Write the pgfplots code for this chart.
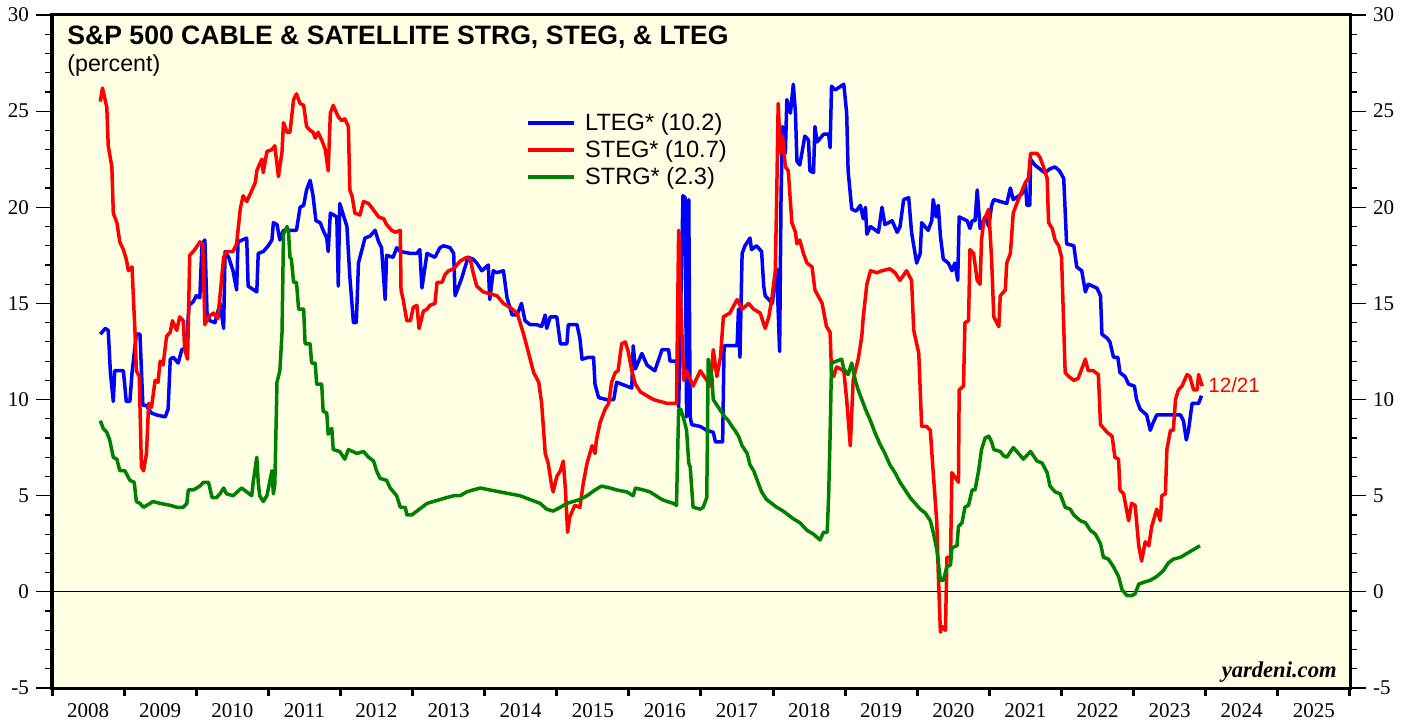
\documentclass[border=0pt]{standalone}
\usepackage{fontspec}
\setmainfont{Liberation Serif}
\newfontfamily\arial{Liberation Sans}
\usepackage{pgfplots}
\pgfplotsset{compat=1.18}
\definecolor{bgyellow}{RGB}{255,255,228}
\definecolor{lteg}{RGB}{0,0,255}
\definecolor{steg}{RGB}{255,0,0}
\definecolor{strg}{RGB}{0,128,0}

\pgfplotsset{
  frame/.style={
    scale only axis, width=649pt, height=336.5pt,
    xmin=2008, xmax=2026, ymin=-5, ymax=30,
    axis line style={line width=1.5pt},
    tick align=outside,
    tick label style={font=\fontsize{10.5}{12}\selectfont},
    /pgf/number format/assume math mode=true,
  },
  yframe/.style={frame, xtick=\empty,
    ytick={-5,0,...,30}, minor y tick num=4,
    major tick length=8pt, minor tick length=3.5pt,
    tick style={black, line width=0.6pt}},
}

\begin{document}
\begin{tikzpicture}
\begin{axis}[frame,
  axis background/.style={fill=bgyellow},
  xtick={2008,...,2026},
  xticklabels={2008,2009,2010,2011,2012,2013,2014,2015,2016,2017,2018,2019,2020,2021,2022,2023,2024,2025,{}},
  xticklabel style={xshift=18.03pt},
  xtick pos=bottom, ytick=\empty,
  major tick length=4pt, tick style={black, line width=1.5pt},
  every axis plot/.append style={line width=1.75pt, line join=round},
  legend cell align=left,
  legend image code/.code={\draw[#1] (0pt,0pt) -- (23pt,0pt);},
  legend style={draw=none, fill=none, at={(rel axis cs:0.3652,0.8565)}, anchor=north west,
    font=\arial\fontsize{11.8}{13}\selectfont, inner sep=0pt, row sep=2.2pt, column sep=4pt,
    nodes={inner sep=0.6pt}},
]
\addplot[black, line width=0.5pt, forget plot] coordinates {(2008,0)(2026,0)};

\addplot[lteg] coordinates {
(2008.67,13.4)(2008.74,13.7)(2008.78,13.6)(2008.81,11.4)(2008.85,9.9)(2008.87,11.5)(2008.99,11.5)(2009.03,9.9)(2009.08,9.9)(2009.11,11.4)(2009.17,13.4)(2009.22,13.4)(2009.26,9.7)(2009.31,9.7)(2009.34,9.5)(2009.38,9.3)(2009.45,9.2)(2009.57,9.1)(2009.61,9.5)(2009.64,12.1)(2009.68,12.2)(2009.75,11.9)(2009.80,12.6)(2009.86,12.7)(2009.90,14.9)(2009.96,15.1)(2010.00,15.4)(2010.05,15.3)(2010.08,18.1)(2010.12,18.3)(2010.15,14.5)(2010.19,14.1)(2010.26,14.0)(2010.33,15.0)(2010.38,13.7)(2010.40,17.7)(2010.45,17.4)(2010.51,16.7)(2010.56,15.7)(2010.58,18.2)(2010.70,18.4)(2010.72,15.9)(2010.84,15.6)(2010.86,17.6)(2010.93,17.7)(2011.00,18.0)(2011.05,18.3)(2011.07,19.2)(2011.12,19.1)(2011.16,18.3)(2011.21,18.8)(2011.30,18.8)(2011.39,18.8)(2011.44,20.0)(2011.49,20.1)(2011.53,20.9)(2011.58,21.4)(2011.62,20.6)(2011.66,19.3)(2011.72,19.2)(2011.76,18.8)(2011.81,18.4)(2011.83,17.7)(2011.86,19.7)(2011.95,19.5)(2011.97,15.9)(2011.99,20.2)(2012.04,19.6)(2012.09,19.0)(2012.13,16.4)(2012.18,14.0)(2012.22,14.0)(2012.25,17.1)(2012.34,18.4)(2012.41,18.5)(2012.48,18.8)(2012.53,18.2)(2012.57,17.9)(2012.62,15.2)(2012.64,17.5)(2012.73,17.4)(2012.78,17.9)(2012.83,17.7)(2012.97,17.6)(2013.06,17.6)(2013.10,17.8)(2013.13,15.8)(2013.20,17.6)(2013.31,17.4)(2013.38,17.9)(2013.43,18.0)(2013.52,17.9)(2013.57,17.6)(2013.59,15.4)(2013.64,15.9)(2013.68,16.3)(2013.77,17.4)(2013.84,17.3)(2013.89,17.1)(2013.96,16.7)(2014.05,17.0)(2014.07,15.2)(2014.12,16.7)(2014.17,16.6)(2014.26,16.7)(2014.31,15.3)(2014.38,14.4)(2014.45,14.4)(2014.51,15.0)(2014.56,14.1)(2014.63,13.9)(2014.72,13.9)(2014.79,13.8)(2014.84,14.4)(2014.86,13.7)(2014.91,14.3)(2015.00,14.3)(2015.05,12.9)(2015.14,12.9)(2015.16,13.9)(2015.28,13.9)(2015.32,13.2)(2015.35,12.1)(2015.44,12.2)(2015.51,12.2)(2015.53,10.8)(2015.58,10.1)(2015.69,10.0)(2015.79,10.0)(2015.83,10.9)(2016.04,10.6)(2016.06,12.8)(2016.09,11.6)(2016.18,12.4)(2016.25,11.8)(2016.32,11.6)(2016.36,11.5)(2016.46,12.6)(2016.55,12.6)(2016.57,12.0)(2016.66,12.0)(2016.69,9.6)(2016.75,20.6)(2016.78,20.5)(2016.80,9.1)(2016.83,20.4)(2016.85,9.1)(2016.87,8.7)(2016.99,8.6)(2017.08,8.4)(2017.17,8.3)(2017.20,7.8)(2017.30,7.8)(2017.32,12.8)(2017.45,12.8)(2017.50,12.8)(2017.52,14.7)(2017.54,12.2)(2017.57,17.6)(2017.61,18.0)(2017.68,18.4)(2017.70,17.8)(2017.77,18.0)(2017.84,17.7)(2017.87,15.9)(2017.89,15.4)(2017.94,15.2)(2017.99,15.0)(2018.03,16.4)(2018.05,16.8)(2018.09,12.5)(2018.11,20.6)(2018.13,24.2)(2018.17,22.8)(2018.19,25.6)(2018.24,24.9)(2018.28,26.4)(2018.31,24.9)(2018.33,22.4)(2018.37,22.2)(2018.44,23.7)(2018.49,23.5)(2018.51,21.9)(2018.56,21.8)(2018.58,24.2)(2018.61,23.4)(2018.70,23.8)(2018.77,23.8)(2018.79,23.1)(2018.81,26.3)(2018.86,26.1)(2018.98,26.4)(2019.02,24.9)(2019.04,21.9)(2019.09,19.9)(2019.15,19.8)(2019.21,20.1)(2019.25,19.4)(2019.28,20.0)(2019.30,18.6)(2019.35,19.0)(2019.46,18.7)(2019.51,20.0)(2019.55,19.1)(2019.65,19.3)(2019.72,18.7)(2019.76,19.0)(2019.81,20.4)(2019.88,20.5)(2019.92,18.7)(2019.99,17.1)(2020.04,17.6)(2020.06,19.2)(2020.15,18.8)(2020.20,19.3)(2020.22,20.4)(2020.26,19.5)(2020.29,20.1)(2020.32,18.5)(2020.36,17.3)(2020.43,17.1)(2020.48,16.7)(2020.52,17.1)(2020.56,16.2)(2020.58,19.5)(2020.69,19.3)(2020.73,18.9)(2020.76,19.3)(2020.80,19.3)(2020.83,20.9)(2020.87,18.9)(2020.94,19.5)(2020.99,19.0)(2021.03,20.1)(2021.06,20.4)(2021.24,20.2)(2021.29,21.0)(2021.33,20.4)(2021.45,20.7)(2021.50,21.2)(2021.52,20.1)(2021.56,20.1)(2021.57,22.5)(2021.63,22.2)(2021.73,21.9)(2021.77,21.8)(2021.84,22.0)(2021.91,22.1)(2021.97,21.9)(2022.03,21.5)(2022.07,18.1)(2022.17,18.0)(2022.21,16.9)(2022.28,16.7)(2022.33,15.6)(2022.37,16.0)(2022.49,15.8)(2022.54,15.4)(2022.56,13.4)(2022.63,13.2)(2022.67,13.0)(2022.72,12.2)(2022.78,12.2)(2022.81,11.4)(2022.88,11.2)(2022.93,10.8)(2023.01,10.7)(2023.04,10.0)(2023.09,9.5)(2023.18,9.2)(2023.23,8.4)(2023.27,8.8)(2023.32,9.2)(2023.65,9.2)(2023.69,8.9)(2023.73,7.9)(2023.76,8.4)(2023.81,9.8)(2023.90,9.8)(2023.94,10.2)
};
\addlegendentry{LTEG* (10.2)}

\addplot[steg] coordinates {
(2008.67,25.5)(2008.70,26.2)(2008.76,25.2)(2008.78,23.2)(2008.83,22.1)(2008.85,19.7)(2008.90,19.2)(2008.94,18.2)(2008.99,17.8)(2009.03,17.3)(2009.06,16.7)(2009.11,16.9)(2009.13,15.2)(2009.15,13.6)(2009.17,11.5)(2009.21,11.2)(2009.24,6.5)(2009.27,6.3)(2009.31,7.2)(2009.34,9.8)(2009.38,9.6)(2009.43,11.0)(2009.47,10.9)(2009.50,12.0)(2009.54,11.8)(2009.59,13.3)(2009.64,13.5)(2009.67,14.1)(2009.73,13.6)(2009.77,14.3)(2009.82,14.1)(2009.84,12.6)(2009.88,12.1)(2009.91,17.5)(2009.98,17.8)(2010.05,18.2)(2010.09,18.1)(2010.12,13.9)(2010.17,14.3)(2010.24,14.5)(2010.30,14.2)(2010.38,17.4)(2010.42,17.7)(2010.51,17.7)(2010.56,18.1)(2010.61,19.9)(2010.65,20.6)(2010.70,20.3)(2010.75,20.7)(2010.82,21.3)(2010.84,21.9)(2010.91,22.5)(2010.93,21.8)(2010.98,22.9)(2011.05,23.0)(2011.09,23.2)(2011.14,21.6)(2011.19,22.9)(2011.21,24.4)(2011.26,23.9)(2011.30,23.9)(2011.35,25.6)(2011.39,25.9)(2011.44,25.4)(2011.49,25.3)(2011.53,24.2)(2011.58,24.0)(2011.62,23.9)(2011.65,23.6)(2011.69,23.9)(2011.74,23.5)(2011.79,23.0)(2011.83,21.9)(2011.86,24.9)(2011.90,25.3)(2011.97,24.7)(2012.02,24.5)(2012.06,24.6)(2012.11,24.2)(2012.13,20.9)(2012.16,20.6)(2012.20,19.7)(2012.27,19.6)(2012.32,20.3)(2012.39,20.2)(2012.43,20.0)(2012.53,19.5)(2012.60,19.4)(2012.64,19.1)(2012.71,18.8)(2012.76,18.7)(2012.83,18.8)(2012.84,15.7)(2012.87,15.2)(2012.92,14.1)(2012.97,14.1)(2013.01,14.8)(2013.06,14.9)(2013.09,13.7)(2013.15,14.6)(2013.20,14.7)(2013.24,14.9)(2013.31,15.0)(2013.34,16.1)(2013.41,16.1)(2013.45,16.5)(2013.50,16.7)(2013.57,16.8)(2013.66,17.2)(2013.75,17.4)(2013.80,17.3)(2013.84,16.6)(2013.89,15.9)(2013.98,15.6)(2014.17,15.4)(2014.26,15.0)(2014.35,14.8)(2014.45,14.5)(2014.54,13.4)(2014.61,12.4)(2014.68,11.4)(2014.75,10.9)(2014.79,9.8)(2014.84,7.2)(2014.88,6.7)(2014.93,5.5)(2014.95,5.2)(2015.00,6.0)(2015.05,6.3)(2015.09,6.8)(2015.12,5.3)(2015.15,3.1)(2015.18,3.9)(2015.25,4.5)(2015.32,4.4)(2015.37,5.7)(2015.42,6.7)(2015.49,7.6)(2015.53,7.2)(2015.55,7.9)(2015.60,8.8)(2015.67,9.5)(2015.72,9.8)(2015.76,10.9)(2015.81,11.4)(2015.85,11.5)(2015.90,12.9)(2015.95,13.0)(2015.99,12.5)(2016.04,11.5)(2016.09,10.8)(2016.16,10.4)(2016.25,10.2)(2016.34,10.0)(2016.53,9.8)(2016.66,9.8)(2016.69,18.8)(2016.72,15.0)(2016.76,11.0)(2016.80,11.5)(2016.89,10.7)(2016.99,11.5)(2017.08,11.0)(2017.13,10.7)(2017.17,12.6)(2017.22,11.2)(2017.27,12.2)(2017.31,14.3)(2017.40,14.5)(2017.50,15.2)(2017.57,14.7)(2017.66,15.0)(2017.73,14.7)(2017.82,14.5)(2017.89,13.7)(2017.94,14.3)(2017.98,15.2)(2018.03,16.7)(2018.05,20.6)(2018.07,25.4)(2018.10,22.8)(2018.13,23.7)(2018.17,22.1)(2018.21,21.9)(2018.26,19.2)(2018.31,18.7)(2018.33,18.1)(2018.37,18.3)(2018.42,17.6)(2018.47,17.1)(2018.54,16.9)(2018.58,15.7)(2018.68,15.0)(2018.74,13.8)(2018.79,13.5)(2018.81,11.4)(2018.84,11.2)(2018.88,11.7)(2018.98,11.5)(2019.02,10.0)(2019.07,7.6)(2019.11,11.0)(2019.14,11.5)(2019.18,12.1)(2019.23,13.3)(2019.25,14.3)(2019.30,16.0)(2019.35,16.7)(2019.44,16.6)(2019.51,16.7)(2019.62,16.8)(2019.69,16.6)(2019.76,16.2)(2019.85,16.7)(2019.92,16.2)(2019.95,13.6)(2020.02,12.4)(2020.06,8.6)(2020.13,8.6)(2020.18,8.4)(2020.22,6.2)(2020.27,3.6)(2020.29,1.0)(2020.32,-2.1)(2020.34,-1.8)(2020.39,-2.0)(2020.41,1.8)(2020.46,1.8)(2020.48,6.2)(2020.57,5.7)(2020.58,10.5)(2020.64,10.7)(2020.66,14.0)(2020.71,14.1)(2020.73,17.8)(2020.78,17.6)(2020.83,16.2)(2020.87,16.0)(2020.89,18.3)(2020.92,19.3)(2020.99,19.9)(2021.03,17.3)(2021.06,14.3)(2021.13,13.8)(2021.15,15.4)(2021.22,15.7)(2021.24,17.1)(2021.29,17.6)(2021.33,19.7)(2021.40,20.4)(2021.50,21.3)(2021.54,21.5)(2021.57,22.8)(2021.66,22.8)(2021.70,22.6)(2021.75,22.1)(2021.80,21.5)(2021.82,19.2)(2021.87,18.9)(2021.91,18.3)(2021.96,18.0)(2022.00,17.4)(2022.05,11.4)(2022.10,11.2)(2022.17,11.0)(2022.23,11.1)(2022.33,12.1)(2022.37,11.5)(2022.44,11.5)(2022.51,11.3)(2022.54,8.7)(2022.63,8.3)(2022.70,8.1)(2022.74,7.0)(2022.79,6.9)(2022.81,5.3)(2022.86,5.1)(2022.93,3.7)(2022.97,4.6)(2023.02,4.5)(2023.07,2.4)(2023.11,1.6)(2023.16,2.6)(2023.21,2.4)(2023.25,3.4)(2023.32,4.3)(2023.37,3.7)(2023.39,5.0)(2023.44,5.1)(2023.46,7.4)(2023.51,8.4)(2023.55,8.4)(2023.58,10.0)(2023.62,10.5)(2023.67,10.7)(2023.74,11.3)(2023.78,11.2)(2023.83,10.5)(2023.88,10.5)(2023.90,11.3)(2023.95,10.7)
};
\addlegendentry{STEG* (10.7)}

\addplot[strg] coordinates {
(2008.67,8.9)(2008.71,8.5)(2008.76,8.3)(2008.80,7.9)(2008.85,7.0)(2008.90,6.9)(2008.94,6.3)(2009.01,6.3)(2009.08,5.8)(2009.14,5.7)(2009.17,4.7)(2009.22,4.6)(2009.27,4.4)(2009.36,4.6)(2009.40,4.7)(2009.50,4.6)(2009.64,4.5)(2009.73,4.4)(2009.82,4.4)(2009.87,4.6)(2009.89,5.3)(2009.96,5.3)(2010.05,5.5)(2010.10,5.7)(2010.17,5.7)(2010.22,4.9)(2010.28,4.9)(2010.33,5.1)(2010.38,5.4)(2010.42,5.1)(2010.51,5.0)(2010.63,5.4)(2010.70,5.2)(2010.77,5.0)(2010.79,5.7)(2010.84,7.0)(2010.86,5.7)(2010.88,5.0)(2010.93,4.7)(2010.98,5.0)(2011.05,6.3)(2011.07,5.1)(2011.09,5.6)(2011.12,10.9)(2011.16,11.5)(2011.19,13.5)(2011.21,18.6)(2011.26,19.0)(2011.28,18.7)(2011.30,17.4)(2011.32,17.3)(2011.35,16.1)(2011.39,16.1)(2011.42,14.7)(2011.49,14.7)(2011.51,12.9)(2011.58,12.9)(2011.60,11.9)(2011.65,11.9)(2011.67,10.8)(2011.74,10.8)(2011.76,9.4)(2011.81,9.3)(2011.83,8.2)(2011.88,8.5)(2011.90,7.4)(2011.99,7.3)(2012.06,6.9)(2012.11,7.4)(2012.23,7.2)(2012.32,7.3)(2012.39,7.0)(2012.46,6.8)(2012.50,6.3)(2012.55,5.9)(2012.64,5.8)(2012.69,5.4)(2012.78,5.0)(2012.83,4.4)(2012.90,4.4)(2012.92,4.0)(2012.99,4.0)(2013.06,4.2)(2013.13,4.4)(2013.20,4.6)(2013.29,4.7)(2013.47,4.9)(2013.57,5.0)(2013.66,5.0)(2013.75,5.2)(2013.84,5.3)(2013.94,5.4)(2014.07,5.3)(2014.21,5.2)(2014.35,5.1)(2014.49,5.0)(2014.63,4.8)(2014.77,4.6)(2014.86,4.3)(2014.95,4.2)(2015.05,4.4)(2015.14,4.6)(2015.32,4.8)(2015.42,5.0)(2015.53,5.3)(2015.62,5.5)(2015.74,5.4)(2015.83,5.3)(2015.97,5.2)(2016.06,5.0)(2016.09,5.4)(2016.20,5.3)(2016.29,5.2)(2016.46,4.8)(2016.53,4.7)(2016.62,4.6)(2016.66,4.5)(2016.69,9.5)(2016.72,9.5)(2016.76,9.0)(2016.80,8.4)(2016.83,6.7)(2016.85,6.5)(2016.89,4.4)(2016.99,4.3)(2017.03,4.4)(2017.08,4.9)(2017.10,12.1)(2017.15,11.2)(2017.17,10.0)(2017.24,9.6)(2017.33,9.1)(2017.38,8.9)(2017.43,8.6)(2017.47,8.4)(2017.52,8.1)(2017.57,7.6)(2017.64,7.2)(2017.68,6.6)(2017.73,6.3)(2017.77,5.9)(2017.84,5.2)(2017.91,4.8)(2017.98,4.6)(2018.05,4.4)(2018.14,4.2)(2018.21,4.0)(2018.28,3.8)(2018.37,3.6)(2018.47,3.2)(2018.56,3.0)(2018.65,2.7)(2018.70,3.1)(2018.75,3.1)(2018.77,5.0)(2018.79,8.1)(2018.81,11.9)(2018.88,12.0)(2018.95,12.1)(2018.98,11.6)(2019.04,11.3)(2019.09,11.9)(2019.14,11.0)(2019.18,10.5)(2019.23,10.0)(2019.28,9.5)(2019.35,8.9)(2019.41,8.3)(2019.48,7.7)(2019.55,7.2)(2019.62,6.6)(2019.69,6.2)(2019.76,5.7)(2019.83,5.3)(2019.90,4.9)(2019.97,4.6)(2020.04,4.3)(2020.11,4.1)(2020.18,3.7)(2020.22,3.1)(2020.27,2.2)(2020.32,0.6)(2020.36,0.6)(2020.41,1.3)(2020.46,1.4)(2020.48,2.3)(2020.55,2.4)(2020.57,3.4)(2020.62,3.6)(2020.66,4.4)(2020.71,4.5)(2020.76,5.3)(2020.80,5.3)(2020.85,6.3)(2020.89,7.4)(2020.94,8.0)(2020.99,8.1)(2021.03,7.8)(2021.06,7.4)(2021.15,7.3)(2021.19,7.1)(2021.24,7.0)(2021.33,7.5)(2021.38,7.3)(2021.47,6.9)(2021.57,7.3)(2021.66,6.8)(2021.73,6.7)(2021.80,6.2)(2021.84,5.5)(2021.91,5.2)(2021.98,5.1)(2022.05,4.4)(2022.12,4.3)(2022.17,4.0)(2022.26,3.7)(2022.33,3.6)(2022.40,3.2)(2022.47,3.0)(2022.54,2.5)(2022.58,1.8)(2022.65,1.7)(2022.72,1.3)(2022.79,0.8)(2022.84,0.1)(2022.91,-0.2)(2022.97,-0.2)(2023.02,-0.1)(2023.07,0.4)(2023.14,0.5)(2023.23,0.6)(2023.32,0.8)(2023.41,1.1)(2023.48,1.5)(2023.55,1.7)(2023.65,1.8)(2023.74,2.0)(2023.83,2.2)(2023.92,2.4)
};
\addlegendentry{STRG* (2.3)}

\node[anchor=base west, inner sep=0pt, font=\arial\bfseries\fontsize{13.3}{15}\selectfont]
  at (rel axis cs:0.01156,0.9555) {S\&P 500 CABLE \& SATELLITE STRG, STEG, \& LTEG};
\node[anchor=base west, inner sep=0pt, font=\arial\fontsize{11.6}{13}\selectfont]
  at (rel axis cs:0.01156,0.9165) {(percent)};
\node[anchor=west, inner sep=0pt, text=steg, font=\arial\fontsize{10.3}{12}\selectfont]
  at (axis cs:2024.03,10.75) {12/21};
\node[anchor=base east, inner sep=0pt, font=\bfseries\itshape\fontsize{11.3}{13}\selectfont]
  at (rel axis cs:0.990,0.01634) {yardeni.com};
\end{axis}

\begin{axis}[yframe, ytick pos=left]
\end{axis}
\begin{axis}[yframe, ytick pos=right, yticklabel pos=right]
\end{axis}

\pgfresetboundingbox
\path[use as bounding box] (-26pt,-15.5pt) rectangle (677.5pt,344pt);
\end{tikzpicture}
\end{document}
